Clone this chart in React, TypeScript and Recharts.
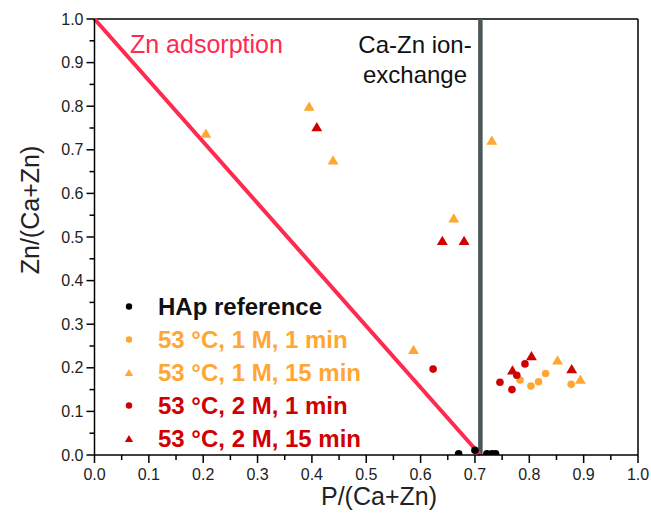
import { ScatterChart, Scatter, XAxis, YAxis, ReferenceLine } from 'recharts';

const X_TICKS = [0, 0.05, 0.1, 0.15, 0.2, 0.25, 0.3, 0.35, 0.4, 0.45, 0.5, 0.55, 0.6, 0.65, 0.7, 0.75, 0.8, 0.85, 0.9, 0.95, 1];
const Y_TICKS = [0, 0.05, 0.1, 0.15, 0.2, 0.25, 0.3, 0.35, 0.4, 0.45, 0.5, 0.55, 0.6, 0.65, 0.7, 0.75, 0.8, 0.85, 0.9, 0.95, 1];

const HAP_REF = [
  { p: 0.67, zn: 0.003 }, { p: 0.7, zn: 0.011 }, { p: 0.722, zn: 0.003 },
  { p: 0.731, zn: 0.003 }, { p: 0.738, zn: 0.003 },
];
const M1_MIN1 = [
  { p: 0.783, zn: 0.172 }, { p: 0.803, zn: 0.158 }, { p: 0.817, zn: 0.168 },
  { p: 0.83, zn: 0.187 }, { p: 0.877, zn: 0.162 },
];
const M1_MIN15 = [
  { p: 0.205, zn: 0.738 }, { p: 0.395, zn: 0.8 }, { p: 0.439, zn: 0.677 }, { p: 0.731, zn: 0.722 },
  { p: 0.661, zn: 0.544 }, { p: 0.587, zn: 0.242 }, { p: 0.852, zn: 0.218 }, { p: 0.894, zn: 0.174 },
];
const M2_MIN1 = [
  { p: 0.623, zn: 0.197 }, { p: 0.746, zn: 0.167 }, { p: 0.768, zn: 0.15 },
  { p: 0.777, zn: 0.183 }, { p: 0.792, zn: 0.209 },
];
const M2_MIN15 = [
  { p: 0.409, zn: 0.753 }, { p: 0.64, zn: 0.492 }, { p: 0.68, zn: 0.492 },
  { p: 0.769, zn: 0.195 }, { p: 0.804, zn: 0.228 }, { p: 0.878, zn: 0.198 },
];

const ADSORPTION_LINE = [{ x: 0, y: 1 }, { x: 0.71, y: 0 }];
const ION_EXCHANGE_P = 0.71;

const ORANGE = '#ffa733';
const RED = '#d10000';
const LINE_RED = '#ff2a4f';
const FONT = '"Liberation Sans", Arial, sans-serif';

const SERIES = [
  { name: 'HAp reference', data: HAP_REF, color: '#000000', text: '#111111', shape: 'circle' },
  { name: '53 °C, 1 M, 1 min', data: M1_MIN1, color: ORANGE, text: ORANGE, shape: 'circle' },
  { name: '53 °C, 1 M, 15 min', data: M1_MIN15, color: ORANGE, text: ORANGE, shape: 'triangle' },
  { name: '53 °C, 2 M, 1 min', data: M2_MIN1, color: RED, text: RED, shape: 'circle' },
  { name: '53 °C, 2 M, 15 min', data: M2_MIN15, color: RED, text: RED, shape: 'triangle' },
];

const isMajor = (v: number) => Math.abs(v * 10 - Math.round(v * 10)) < 1e-6;

const XTick = (props: any) => {
  const { x, y, payload } = props;
  const major = isMajor(payload.value);
  return (
    <g>
      <line x1={x} x2={x} y1={y} y2={y + (major ? 8 : 5)} stroke="#000" strokeWidth={1.5} />
      {major && (
        <text x={x} y={y + 25} textAnchor="middle" fontSize={16} fill="#222" fontFamily={FONT}>
          {payload.value.toFixed(1)}
        </text>
      )}
    </g>
  );
};

const YTick = (props: any) => {
  const { x, y, payload } = props;
  const major = isMajor(payload.value);
  return (
    <g>
      <line x1={x} x2={x - (major ? 8 : 5)} y1={y} y2={y} stroke="#000" strokeWidth={1.5} />
      {major && (
        <text x={x - 11} y={y + 5.5} textAnchor="end" fontSize={16} fill="#222" fontFamily={FONT}>
          {payload.value.toFixed(1)}
        </text>
      )}
    </g>
  );
};

const marker = (shape: string, color: string, r: number) => (props: any) => {
  const { cx, cy } = props;
  if (shape === 'circle') return <circle cx={cx} cy={cy} r={r} fill={color} />;
  const h = r * 2.2;
  const w = r * 2.6;
  return <polygon points={`${cx},${cy - h / 2} ${cx - w / 2},${cy + h / 2} ${cx + w / 2},${cy + h / 2}`} fill={color} />;
};

export default function App() {
  return (
    <div style={{ position: 'absolute', left: 0, top: 0, width: 651, height: 517, fontFamily: FONT, background: '#fff' }}>
      <ScatterChart width={651} height={517} margin={{ top: 19, right: 13, bottom: 22, left: 14.5 }}>
        <XAxis
          type="number"
          dataKey="p"
          domain={[0, 1]}
          ticks={X_TICKS}
          interval={0}
          tick={XTick}
          tickSize={0}
          tickMargin={0}
          tickLine={false}
          axisLine={{ stroke: '#000', strokeWidth: 1.5 }}
          height={40}
        />
        <YAxis
          type="number"
          dataKey="zn"
          domain={[0, 1]}
          allowDataOverflow
          ticks={Y_TICKS}
          interval={0}
          tick={YTick}
          tickSize={0}
          tickMargin={0}
          tickLine={false}
          axisLine={{ stroke: '#000', strokeWidth: 1.5 }}
          width={80}
        />
        <ReferenceLine y={1} stroke="#000" strokeWidth={1.5} />
        <ReferenceLine x={1} stroke="#000" strokeWidth={1.5} />
        <ReferenceLine x={ION_EXCHANGE_P} stroke="#4b5759" strokeWidth={4.5} />
        <ReferenceLine segment={ADSORPTION_LINE} stroke={LINE_RED} strokeWidth={4} />
        {SERIES.map((s) => (
          <Scatter
            key={s.name}
            name={s.name}
            data={s.data}
            shape={marker(s.shape, s.color, s.shape === 'circle' ? 3.8 : 4.2)}
            isAnimationActive={false}
          />
        ))}
      </ScatterChart>
      <svg width={651} height={517} style={{ position: 'absolute', left: 0, top: 0, pointerEvents: 'none' }} fontFamily={FONT}>
        <text x={130} y={53} fontSize={25} fill={LINE_RED}>Zn adsorption</text>
        <text x={415} y={53} fontSize={24} textAnchor="middle" fill="#111">Ca-Zn ion-</text>
        <text x={415} y={83} fontSize={24} textAnchor="middle" fill="#111">exchange</text>
        <text x={379} y={505} fontSize={25} textAnchor="middle" fill="#222">P/(Ca+Zn)</text>
        <text x={39} y={210} fontSize={25} textAnchor="middle" fill="#222" transform="rotate(-90 39 210)">Zn/(Ca+Zn)</text>
        {SERIES.map((s, i) => {
          const cy = 306.5 + i * 33;
          return (
            <g key={s.name}>
              {marker(s.shape, s.color, 3.2)({ cx: 129, cy })}
              <text x={158} y={cy + 8.5} fontSize={24} fontWeight="bold" fill={s.text}>{s.name}</text>
            </g>
          );
        })}
      </svg>
    </div>
  );
}
